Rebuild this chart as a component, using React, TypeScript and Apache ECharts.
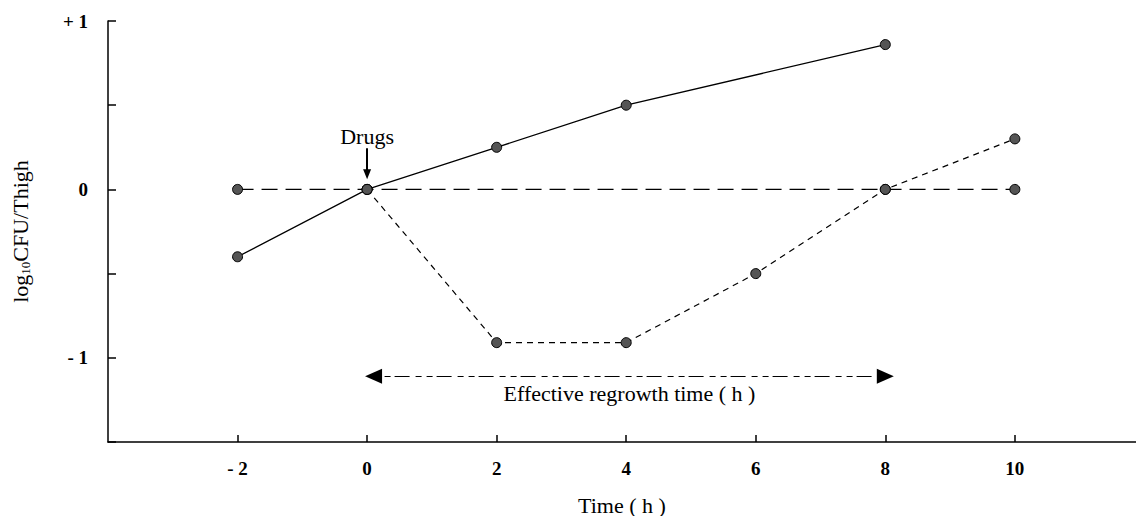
import React, { useEffect, useRef } from "react";
import * as echarts from "echarts";

// ---- data ----
const xTicks = [-2, 0, 2, 4, 6, 8, 10];
const untreatedX = [-2, 0, 2, 4, 8];
const untreatedY = [-0.4, 0, 0.25, 0.5, 0.86];
const baselineX = [-2, 0, 8, 10];
const baselineY = [0, 0, 0, 0];
const treatedX = [0, 2, 4, 6, 8, 10];
const treatedY = [0, -0.91, -0.91, -0.5, 0, 0.3];
const regrowStart = 0.1;
const regrowEnd = 8.0;
const regrowY = -1.11;
const drugsX = 0;
const drugsTop = 0.245;
const drugsTip = 0.09;

const FONT = '"Liberation Serif", "DejaVu Serif", serif';

const pairs = (xs: number[], ys: number[]) => xs.map((x, i) => [x, ys[i]]);

const markerStyle = {
  color: "#555",
  borderColor: "#000",
  borderWidth: 1,
};

export default function App() {
  const ref = useRef<HTMLDivElement>(null);
  useEffect(() => {
    if (!ref.current) return;
    const chart = echarts.init(ref.current, null, { renderer: "svg" });
    chart.setOption({
      animation: false,
      backgroundColor: "#fff",
      grid: {
        left: 108,
        right: 0,
        top: 21,
        bottom: 74,
        containLabel: false,
        outerBoundsMode: "none",
      },
      xAxis: {
        type: "value",
        min: -4,
        max: 11.87,
        name: "Time ( h )",
        nameLocation: "middle",
        nameGap: 52,
        nameTextStyle: { fontFamily: FONT, fontSize: 22, color: "#000" },
        axisLine: { onZero: false, lineStyle: { color: "#000", width: 1.5 } },
        axisTick: {
          inside: true,
          length: 7,
          customValues: xTicks,
          lineStyle: { color: "#000", width: 1.5 },
        },
        axisLabel: {
          customValues: xTicks,
          margin: 17,
          fontFamily: FONT,
          fontSize: 19,
          fontWeight: "bold",
          color: "#000",
          formatter: (v: number) => (v < 0 ? "- " + -v : String(v)),
        },
        splitLine: { show: false },
      },
      yAxis: {
        type: "value",
        min: -1.5,
        max: 1,
        interval: 0.5,
        name: "{a|log}{b|10}{a|CFU/Thigh}",
        nameLocation: "middle",
        nameGap: 76,
        nameRotate: 90,
        nameTextStyle: {
          fontFamily: FONT,
          color: "#000",
          rich: {
            a: { fontFamily: FONT, fontSize: 22, lineHeight: 24, color: "#000" },
            b: {
              fontFamily: FONT,
              fontSize: 13,
              lineHeight: 12,
              verticalAlign: "bottom",
              color: "#000",
            },
          },
        },
        axisLine: { onZero: false, lineStyle: { color: "#000", width: 1.5 } },
        axisTick: { inside: true, length: 8, lineStyle: { color: "#000", width: 1.5 } },
        axisLabel: {
          margin: 20,
          fontFamily: FONT,
          fontSize: 19,
          fontWeight: "bold",
          color: "#000",
          formatter: (v: number) =>
            v === 1 ? "+ 1" : v === 0 ? "0" : v === -1 ? "- 1" : "",
        },
        splitLine: { show: false },
      },
      series: [
        {
          type: "line",
          data: pairs(baselineX, baselineY),
          symbol: "circle",
          symbolSize: 10,
          itemStyle: markerStyle,
          lineStyle: { color: "#000", width: 1.3, type: [16, 8] },
          z: 2,
        },
        {
          type: "line",
          data: pairs(treatedX, treatedY),
          symbol: "circle",
          symbolSize: 10,
          itemStyle: markerStyle,
          lineStyle: { color: "#000", width: 1.2, type: [6, 5] },
          z: 3,
        },
        {
          type: "line",
          data: pairs(untreatedX, untreatedY),
          symbol: "circle",
          symbolSize: 10,
          itemStyle: markerStyle,
          lineStyle: { color: "#000", width: 1.3 },
          z: 4,
        },
        {
          type: "line",
          data: [],
          markLine: {
            silent: true,
            symbol: ["triangle", "triangle"],
            symbolSize: [15, 17],
            lineStyle: { color: "#000", width: 1.2, type: [6, 5, 6, 4, 15, 6] },
            itemStyle: { color: "#000" },
            label: {
              show: true,
              position: "insideMiddleBottom",
              distance: 6,
              formatter: "Effective regrowth time ( h )",
              fontFamily: FONT,
              fontSize: 22,
              color: "#000",
            },
            data: [[{ coord: [regrowStart, regrowY] }, { coord: [regrowEnd, regrowY] }]],
          },
        },
        {
          type: "line",
          data: [],
          markLine: {
            silent: true,
            symbol: ["none", "triangle"],
            symbolSize: [8, 10],
            lineStyle: { color: "#000", width: 2, type: "solid" },
            itemStyle: { color: "#000" },
            label: {
              show: true,
              position: "start",
              distance: 1,
              formatter: "Drugs",
              fontFamily: FONT,
              fontSize: 22,
              color: "#000",
            },
            data: [[{ coord: [drugsX, drugsTop] }, { coord: [drugsX, drugsTip] }]],
          },
        },
      ],
    });
    return () => chart.dispose();
  }, []);
  return (
    <div
      ref={ref}
      style={{ position: "absolute", left: 0, top: 0, width: 1136, height: 516 }}
    />
  );
}
